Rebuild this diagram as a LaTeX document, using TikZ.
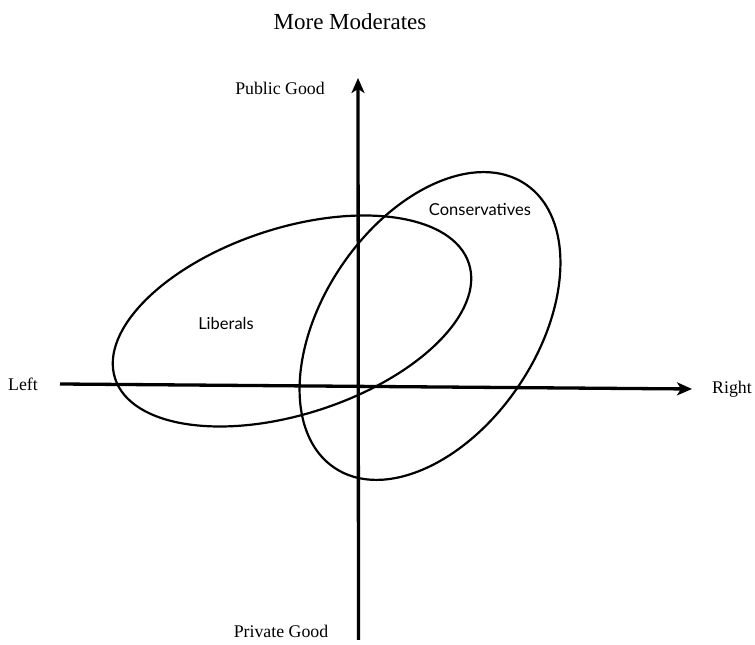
\documentclass[tikz,border=0pt]{standalone}
\usepackage{fontspec}
\setmainfont{Liberation Serif}
\newfontfamily\labelfont{Lato}
\usetikzlibrary{arrows.meta}
\tikzset{
  axis/.style={line width=3.3bp, -{Stealth[length=15bp,width=13bp,inset=4bp]}},
  group/.style={line width=2.2bp},
  serif/.style={font=\fontsize{17.8bp}{20bp}\selectfont, inner sep=0pt},
  grouplabel/.style={font=\labelfont\fontsize{16.5bp}{19bp}\selectfont, inner sep=0pt},
}
\begin{document}
\begin{tikzpicture}[x=1bp,y=1bp]
\useasboundingbox (0,0) rectangle (755,645);
% labels
\node[font=\fontsize{23bp}{27bp}\selectfont, inner sep=0pt] (title) at (350,623) {More Moderates};
\node[serif] (pub) at (280,557) {Public Good};
\node[serif] (priv) at (281,14) {Private Good};
\node[serif] (left) at (23,261) {Left};
\node[serif] (right) at (732,256) {Right};
% ellipses
\draw[group] (292,324) ellipse [x radius=186, y radius=93, rotate=18];
\draw[group] (430,319) ellipse [x radius=171, y radius=107, rotate=56];
\node[grouplabel] (lib) at (226,322) {Liberals};
\node[grouplabel] (con) at (480,435) {Conservatives};
% axes
\coordinate (vb) at (358.5,5);
\coordinate (vt) at (358,567);
\coordinate (hl) at (60,261);
\coordinate (hr) at (692,256);
\draw[axis] (vb) -- (vt);
\draw[axis] (hl) -- (hr);
\end{tikzpicture}
\end{document}
